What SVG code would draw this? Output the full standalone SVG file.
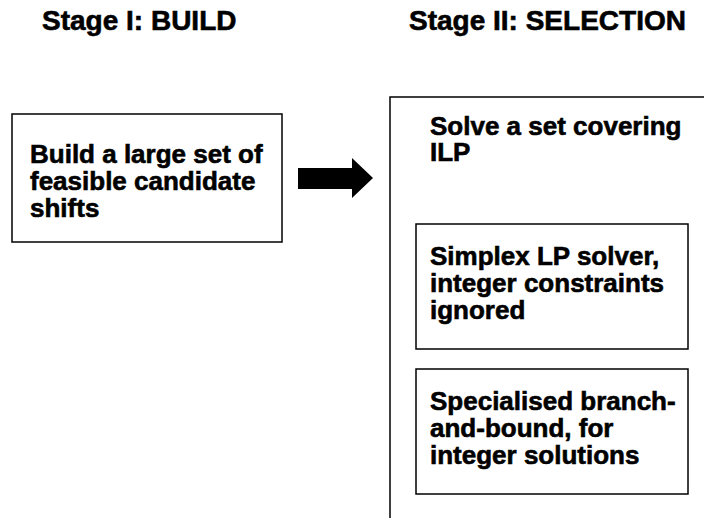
<svg xmlns="http://www.w3.org/2000/svg" width="704" height="518" viewBox="0 0 704 518">
  <style>
    .title { font-family: "Liberation Sans", Arial, sans-serif; font-weight: bold; font-size: 28px; fill: #000; stroke: #000; stroke-width: 0.6; }
    .label { font-family: "Liberation Sans", Arial, sans-serif; font-weight: bold; font-size: 26px; fill: #000; stroke: #000; stroke-width: 0.6; }
    .box { fill: #fff; stroke: #000; stroke-width: 1.5; }
  </style>
  <rect width="704" height="518" fill="#fff"/>

  <!-- stage headings -->
  <text class="title" x="42" y="30">Stage I: BUILD</text>
  <text class="title" x="409" y="30">Stage II: SELECTION</text>

  <!-- stage I: build -->
  <g id="build">
    <rect class="box" x="12" y="114" width="270" height="128"/>
    <text class="label" x="30" y="163">Build a large set of<tspan x="30" dy="27">feasible candidate</tspan><tspan x="30" dy="27">shifts</tspan></text>
  </g>

  <!-- stage II: selection (open to the right and bottom) -->
  <g id="selection">
    <rect class="box" x="390" y="97" width="330" height="440"/>
    <text class="label" x="430" y="135">Solve a set covering<tspan x="430" dy="26">ILP</tspan></text>
  </g>

  <g id="simplex">
    <rect class="box" x="416" y="224" width="272" height="125"/>
    <text class="label" x="430" y="265">Simplex LP solver,<tspan x="430" dy="27">integer constraints</tspan><tspan x="430" dy="27">ignored</tspan></text>
  </g>

  <g id="branch-and-bound">
    <rect class="box" x="416" y="369" width="272" height="125"/>
    <text class="label" x="430" y="410">Specialised branch-<tspan x="430" dy="27">and-bound, for</tspan><tspan x="430" dy="27">integer solutions</tspan></text>
  </g>

  <!-- block arrow between stages -->
  <g id="connectors">
    <polygon points="298,168 352,168 352,158 373,178 352,198 352,189 298,189" fill="#000"/>
  </g>
</svg>
